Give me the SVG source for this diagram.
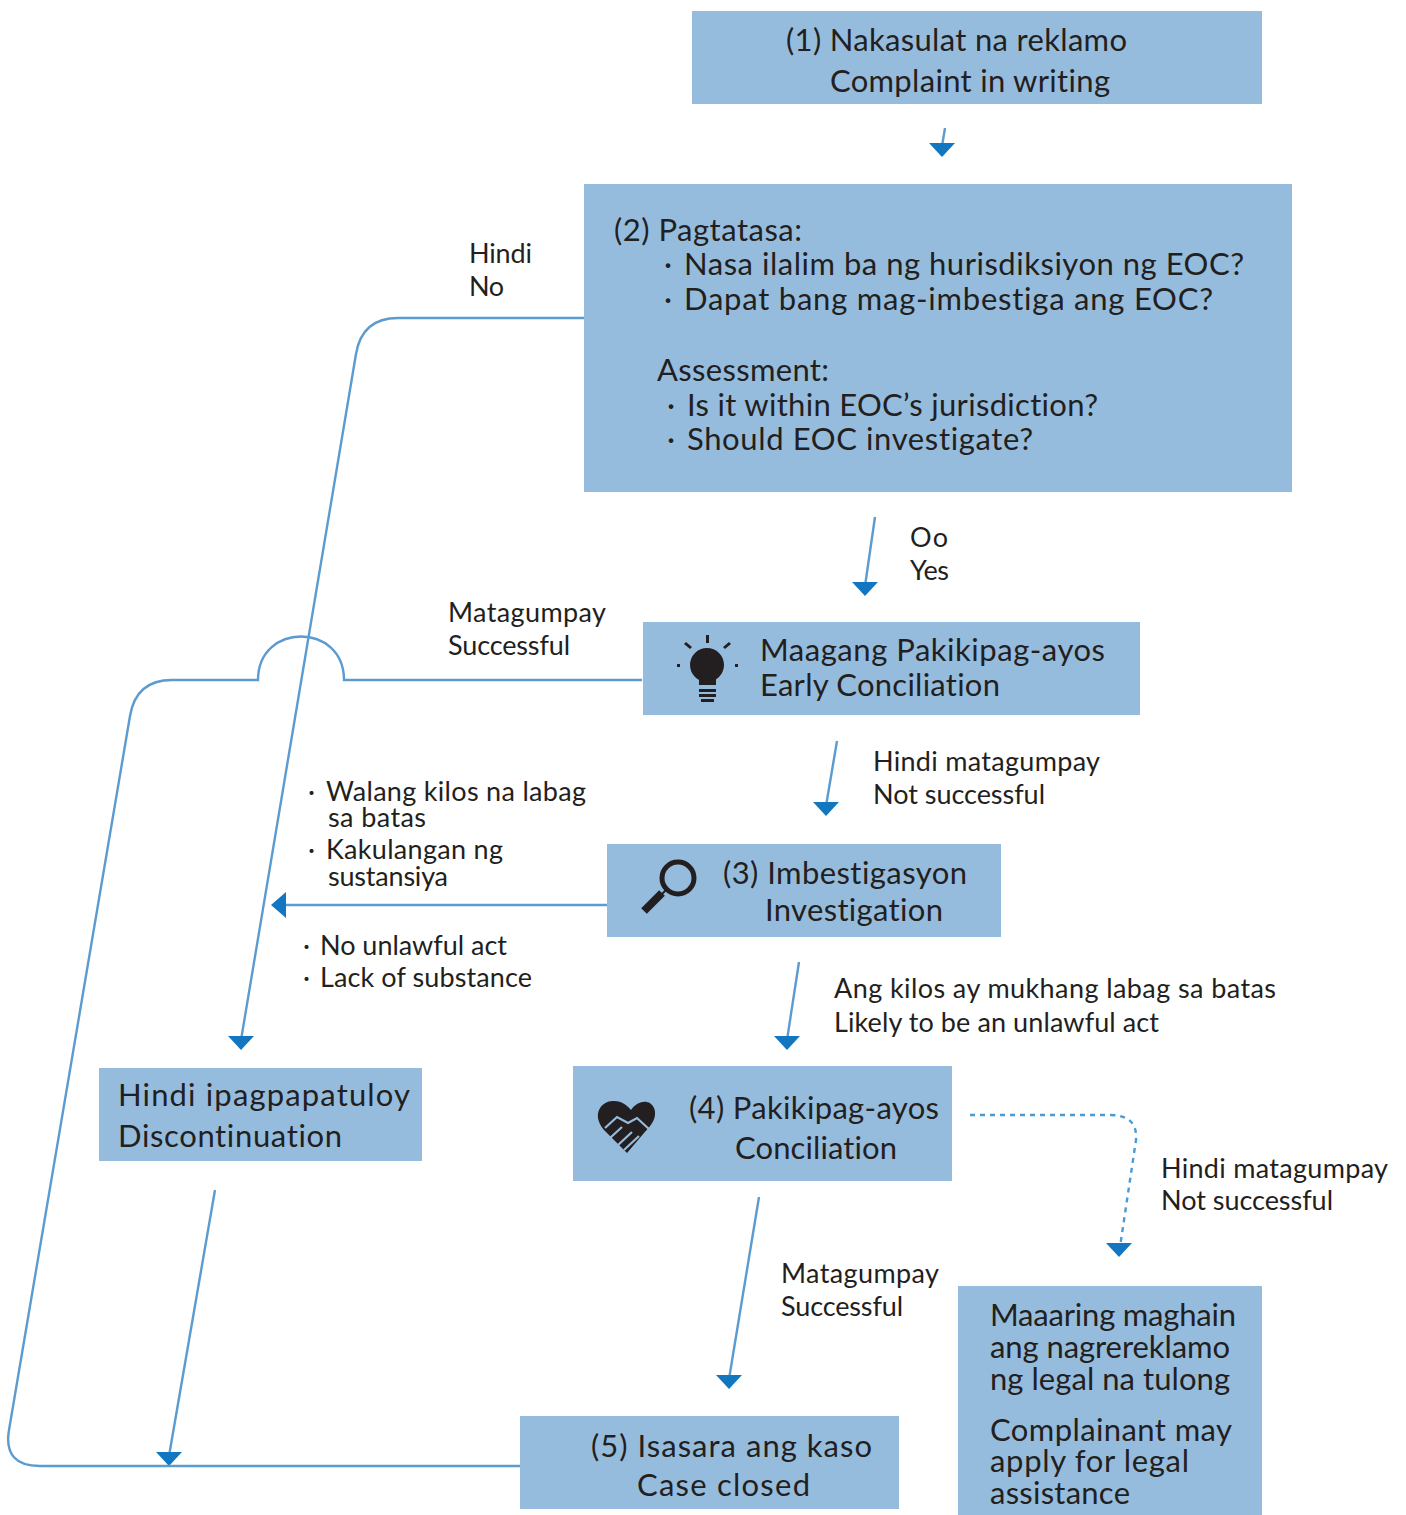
<svg xmlns="http://www.w3.org/2000/svg" width="1406" height="1515" viewBox="0 0 1406 1515">
<style>
.b{fill:#96bcdd}
text{font-family:"Lato","Liberation Sans",sans-serif;fill:#231f20;font-variant-ligatures:none}
.t{font-size:31px}
.s{font-size:27px}
.c{fill:none;stroke:#5b9bd0;stroke-width:2.4}
.d{fill:none;stroke:#4a9ad4;stroke-width:2.4;stroke-dasharray:5 5}
.a{fill:#1277c0}
.i{fill:#231f20}
</style>
<rect width="1406" height="1515" fill="#fff"/>
<g id="connectors">
<path class="c" d="M945 128L942 146"/><path class="a" d="M929 143H955L942 157Z"/>
<path class="c" d="M875 517L865 586"/><path class="a" d="M852 582H878L865 596Z"/>
<path class="c" d="M837 741L826 806"/><path class="a" d="M813 802H839L826 816Z"/>
<path class="c" d="M799 962L787 1040"/><path class="a" d="M774 1036H800L787 1050Z"/>
<path class="c" d="M759 1197L729 1379"/><path class="a" d="M716 1375H742L729 1389Z"/>
<path class="c" d="M215 1190L169 1456"/><path class="a" d="M156 1452H182L169 1466Z"/>
<path class="c" d="M584 318H398Q362 318 356 354L241 1040"/><path class="a" d="M228 1036H254L241 1050Z"/>
<path class="c" d="M642 680H344C344 622 258 622 258 680H172Q136 680 130 716L9 1430Q3 1466 40 1466H520"/>
<path class="c" d="M607 905H281"/><path class="a" d="M286 892V918L271 905Z"/>
<path class="d" d="M970 1115H1110Q1138 1115 1136 1140L1120 1247"/><path class="a" d="M1106 1243H1132L1119 1257Z"/>
</g>
<g id="n1"><rect class="b" x="692" y="11" width="570" height="93"/>
<text class="t" x="786" y="51" textLength="341">(1) Nakasulat na reklamo</text><text class="t" x="830" y="92" textLength="280">Complaint in writing</text></g>
<g id="n2"><rect class="b" x="584" y="184" width="708" height="308"/>
<text class="t" x="614" y="241" textLength="188">(2) Pagtatasa:</text>
<text class="t" x="664" y="275">·<tspan x="684" textLength="560">Nasa ilalim ba ng hurisdiksiyon ng EOC?</tspan></text>
<text class="t" x="664" y="310">·<tspan x="684" textLength="529">Dapat bang mag-imbestiga ang EOC?</tspan></text>
<text class="t" x="657" y="381" textLength="172">Assessment:</text>
<text class="t" x="667" y="416">·<tspan x="687" textLength="411">Is it within EOC’s jurisdiction?</tspan></text>
<text class="t" x="667" y="450">·<tspan x="687" textLength="346">Should EOC investigate?</tspan></text></g>
<g id="n-early"><rect class="b" x="643" y="622" width="497" height="93"/>
<circle class="i" cx="707" cy="665" r="17"/><rect class="i" x="699" y="676" width="17" height="9"/>
<path class="i" d="M699 689h17v3h-17zM699 694h17v3h-17zM701 699h13v3h-13zM706 635h3v8h-3zM684 644l2-2 6 5-2 2zM731 644l-2-2-6 5 2 2zM677 664h3v3h-3zM735 664h3v3h-3z"/>
<text class="t" x="760" y="661" textLength="345">Maagang Pakikipag-ayos</text><text class="t" x="760" y="696" textLength="240">Early Conciliation</text></g>
<g id="n3"><rect class="b" x="607" y="844" width="394" height="93"/>
<circle cx="678" cy="878" r="16" fill="none" stroke="#231f20" stroke-width="5"/>
<path d="M666 890L662 894" stroke="#231f20" stroke-width="2"/><path d="M662 893L644 911" stroke="#231f20" stroke-width="8"/>
<text class="t" x="723" y="884" textLength="244">(3) Imbestigasyon</text><text class="t" x="765" y="921" textLength="178">Investigation</text></g>
<g id="n4"><rect class="b" x="573" y="1066" width="379" height="115"/>
<path class="i" d="M627 1153L604 1130C590 1113 603 1100 614 1101C622 1101 628 1106 631 1110C638 1100 650 1099 654 1108C658 1118 650 1127 644 1133Z"/>
<path d="M605 1128L617 1117L628 1123L637 1118L650 1130M610 1138L622 1127M617 1146L632 1132M624 1150L639 1136M631 1155L645 1141M639 1148L650 1136" fill="none" stroke="#96bcdd" stroke-width="2.2"/>
<text class="t" x="689" y="1119" textLength="250">(4) Pakikipag-ayos</text><text class="t" x="735" y="1159" textLength="162">Conciliation</text></g>
<g id="n-disc"><rect class="b" x="99" y="1068" width="323" height="93"/>
<text class="t" x="118" y="1106" textLength="292">Hindi ipagpapatuloy</text><text class="t" x="118" y="1147" textLength="224">Discontinuation</text></g>
<g id="n5"><rect class="b" x="520" y="1416" width="379" height="93"/>
<text class="t" x="591" y="1457" textLength="281">(5) Isasara ang kaso</text><text class="t" x="637" y="1496" textLength="173">Case closed</text></g>
<g id="n-legal"><rect class="b" x="958" y="1286" width="304" height="229"/>
<text class="t" x="990" y="1326" textLength="246">Maaaring maghain</text><text class="t" x="990" y="1358" textLength="240">ang nagrereklamo</text><text class="t" x="990" y="1390" textLength="240">ng legal na tulong</text>
<text class="t" x="990" y="1441" textLength="242">Complainant may</text><text class="t" x="990" y="1472" textLength="199">apply for legal</text><text class="t" x="990" y="1504" textLength="140">assistance</text></g>
<g id="labels">
<text class="s" x="469" y="263" textLength="63">Hindi</text><text class="s" x="469" y="296" textLength="35">No</text>
<text class="s" x="910" y="547" textLength="38">Oo</text><text class="s" x="910" y="580" textLength="39">Yes</text>
<text class="s" x="448" y="622" textLength="158">Matagumpay</text><text class="s" x="448" y="655" textLength="122">Successful</text>
<text class="s" x="873" y="771" textLength="227">Hindi matagumpay</text><text class="s" x="873" y="804" textLength="172">Not successful</text>
<text class="s" x="308" y="801">·<tspan x="326" textLength="260">Walang kilos na labag</tspan></text><text class="s" x="328" y="827" textLength="98">sa batas</text>
<text class="s" x="308" y="859">·<tspan x="326" textLength="177">Kakulangan ng</tspan></text><text class="s" x="328" y="886" textLength="120">sustansiya</text>
<text class="s" x="303" y="955">·<tspan x="320" textLength="187">No unlawful act</tspan></text><text class="s" x="303" y="987">·<tspan x="320" textLength="212">Lack of substance</tspan></text>
<text class="s" x="834" y="998" textLength="442">Ang kilos ay mukhang labag sa batas</text><text class="s" x="834" y="1032" textLength="325">Likely to be an unlawful act</text>
<text class="s" x="1161" y="1178" textLength="227">Hindi matagumpay</text><text class="s" x="1161" y="1210" textLength="172">Not successful</text>
<text class="s" x="781" y="1283" textLength="158">Matagumpay</text><text class="s" x="781" y="1316" textLength="122">Successful</text>
</g>
</svg>
